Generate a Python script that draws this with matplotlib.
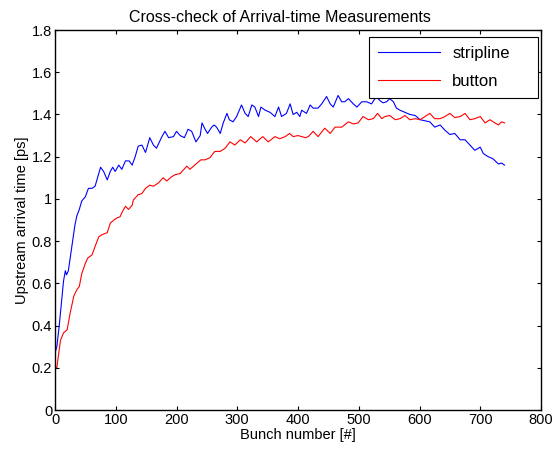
import numpy as np
import matplotlib
matplotlib.use("Agg")
from matplotlib import pyplot as plt

# values
stripline_bunch = [0, 3, 7, 11, 14, 17, 19, 22, 25, 29, 33, 36, 40, 44, 50, 55, 61, 66, 69, 75,
                   80, 86, 91, 95, 99, 105, 110, 116, 122, 127, 132, 137, 143, 149, 156, 162, 167,
                   176, 181, 187, 195, 200, 206, 213, 219, 225, 232, 239, 242, 247, 251, 258, 262,
                   266, 272, 277, 283, 287, 293, 299, 307, 313, 318, 324, 329, 335, 339, 346, 354,
                   362, 368, 373, 381, 387, 392, 398, 403, 406, 414, 420, 425, 433, 439, 447, 453,
                   458, 466, 472, 477, 483, 491, 497, 505, 513, 521, 529, 535, 540, 546, 551, 557,
                   562, 568, 576, 584, 593, 601, 609, 617, 625, 634, 642, 650, 658, 667, 675, 683,
                   691, 700, 705, 713, 721, 730, 735, 740]
stripline = [0.27, 0.30, 0.40, 0.52, 0.61, 0.66, 0.64, 0.66, 0.72, 0.80, 0.88, 0.92, 0.95, 0.99,
             1.01, 1.05, 1.05, 1.06, 1.09, 1.15, 1.13, 1.09, 1.13, 1.15, 1.13, 1.16, 1.14, 1.18,
             1.18, 1.16, 1.20, 1.25, 1.255, 1.22, 1.29, 1.255, 1.24, 1.295, 1.32, 1.29, 1.295,
             1.32, 1.30, 1.29, 1.33, 1.32, 1.27, 1.30, 1.36, 1.33, 1.31, 1.34, 1.35, 1.34, 1.31,
             1.36, 1.405, 1.375, 1.365, 1.39, 1.445, 1.405, 1.39, 1.445, 1.435, 1.39, 1.435, 1.42,
             1.41, 1.39, 1.435, 1.39, 1.405, 1.45, 1.40, 1.41, 1.39, 1.42, 1.405, 1.445, 1.43,
             1.43, 1.45, 1.485, 1.45, 1.435, 1.49, 1.46, 1.46, 1.475, 1.45, 1.435, 1.46, 1.46,
             1.45, 1.485, 1.465, 1.455, 1.46, 1.475, 1.46, 1.43, 1.42, 1.41, 1.40, 1.395, 1.375,
             1.37, 1.365, 1.34, 1.35, 1.325, 1.305, 1.31, 1.28, 1.28, 1.255, 1.23, 1.245, 1.215,
             1.20, 1.19, 1.165, 1.17, 1.16]

button_bunch = [0, 3, 9, 14, 20, 25, 31, 36, 40, 44, 50, 54, 61, 66, 72, 77, 86, 91, 97, 102, 107,
                111, 116, 121, 127, 129, 137, 143, 149, 156, 162, 170, 178, 184, 192, 198, 206,
                217, 222, 230, 240, 247, 255, 263, 272, 280, 288, 296, 305, 313, 322, 332, 342,
                351, 362, 370, 379, 386, 392, 400, 412, 417, 425, 433, 444, 453, 461, 472, 483,
                491, 499, 507, 516, 524, 531, 538, 543, 551, 560, 568, 576, 584, 593, 601, 609,
                617, 625, 634, 642, 650, 658, 667, 675, 683, 691, 700, 708, 716, 724, 730, 735, 740]
button = [0.205, 0.20, 0.33, 0.365, 0.38, 0.46, 0.54, 0.57, 0.585, 0.645, 0.695, 0.72, 0.735,
          0.775, 0.82, 0.83, 0.84, 0.885, 0.90, 0.91, 0.915, 0.94, 0.965, 0.95, 0.97, 0.995, 1.02,
          1.025, 1.05, 1.065, 1.06, 1.075, 1.10, 1.085, 1.105, 1.115, 1.12, 1.155, 1.14, 1.16,
          1.185, 1.185, 1.195, 1.225, 1.225, 1.24, 1.27, 1.255, 1.28, 1.265, 1.295, 1.27, 1.295,
          1.27, 1.295, 1.285, 1.295, 1.31, 1.295, 1.30, 1.29, 1.295, 1.32, 1.295, 1.335, 1.31,
          1.34, 1.34, 1.365, 1.355, 1.36, 1.39, 1.375, 1.38, 1.405, 1.38, 1.39, 1.395, 1.375,
          1.38, 1.395, 1.375, 1.38, 1.375, 1.39, 1.405, 1.38, 1.38, 1.39, 1.405, 1.385, 1.39,
          1.405, 1.375, 1.38, 1.39, 1.36, 1.375, 1.36, 1.35, 1.365, 1.36]

plt.rcParams["font.family"] = ["Liberation Sans", "DejaVu Sans"]
plt.rcParams["font.size"] = 10.5

fig = plt.figure(figsize=(5.53, 4.53), dpi=100)
ax = fig.add_axes([55 / 553, 43 / 453, 486 / 553, 380 / 453])

ax.plot(stripline_bunch, stripline, color="blue", lw=0.8, label="stripline")
ax.plot(button_bunch, button, color="red", lw=0.8, label="button")

ax.set_xlim(0, 800)
ax.set_ylim(0, 1.8)
ax.set_xticks(np.arange(0, 801, 100))
ax.set_yticks(np.arange(0, 1.81, 0.2))
ax.set_yticklabels(["0", "0.2", "0.4", "0.6", "0.8", "1", "1.2", "1.4", "1.6", "1.8"])
ax.tick_params(direction="in", top=True, right=True, length=3, width=0.8, pad=2)
for s in ax.spines.values():
    s.set_linewidth(1.0)

ax.set_xlabel("Bunch number [#]", labelpad=1)
ax.set_ylabel("Upstream arrival time [ps]", labelpad=2)
# the title sits a little left of the axes centre in the reference
ax.set_title("Cross-check of Arrival-time Measurements", fontsize=11.5, pad=6, x=0.463)

# legend box spans px 369..538 horizontally, top at px 37
leg = ax.legend(loc="upper left", bbox_to_anchor=(314 / 486, 0, 169 / 486, 1 - 7 / 380),
                mode="expand", borderaxespad=0, fancybox=False, edgecolor="black",
                framealpha=1, fontsize=12, handlelength=3.7, handletextpad=0.75,
                borderpad=0.55, labelspacing=0.75)
leg.get_frame().set_linewidth(0.8)

fig.savefig("out.png", dpi=100)
